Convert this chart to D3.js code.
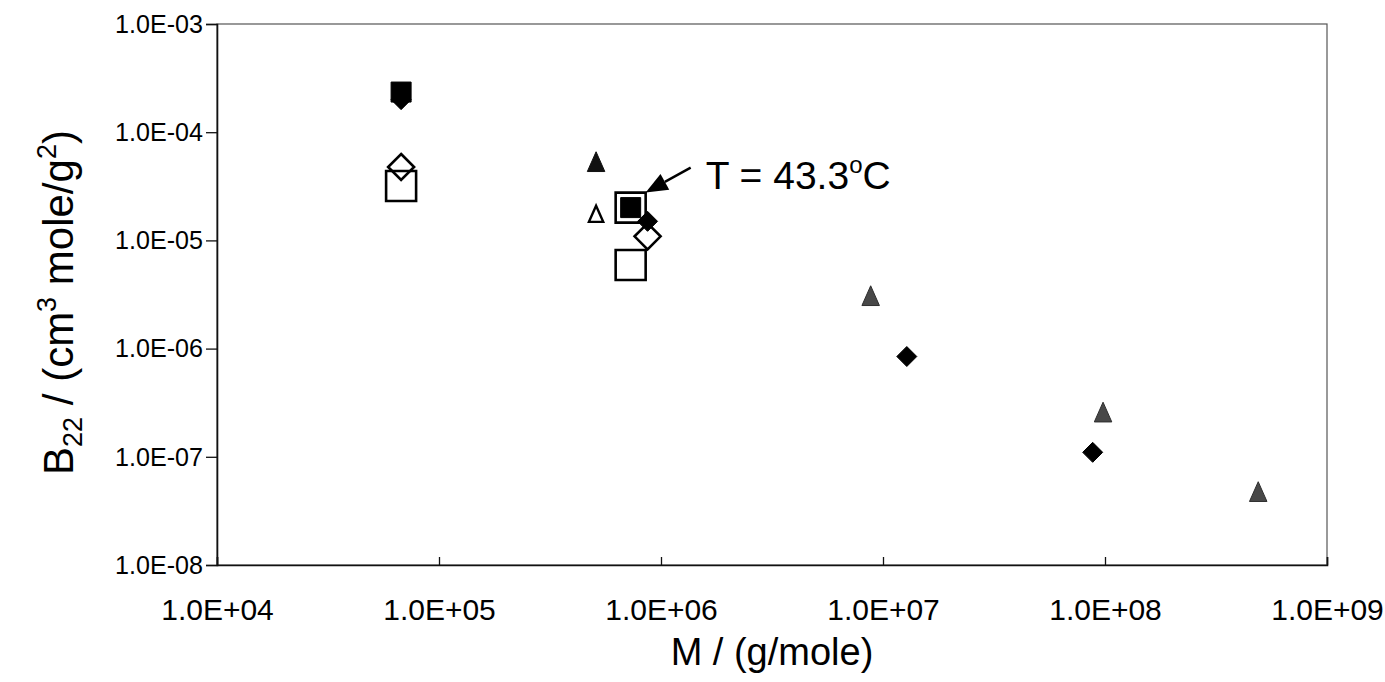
<!DOCTYPE html>
<html>
<head>
<meta charset="utf-8">
<script src="https://cdn.jsdelivr.net/npm/d3@7"></script>
<style>
  html, body { margin: 0; padding: 0; background: #fff; }
  svg { display: block; }
  text { font-family: "Liberation Sans", Arial, Helvetica, sans-serif; fill: #000; }
</style>
</head>
<body>
<svg id="chart" width="1385" height="682"></svg>
<script>
// Axis ticks (log decades) and their printed labels
const xTickValues = [1e4, 1e5, 1e6, 1e7, 1e8, 1e9];
const xTickLabels = ["1.0E+04", "1.0E+05", "1.0E+06", "1.0E+07", "1.0E+08", "1.0E+09"];
const yTickValues = [1e-3, 1e-4, 1e-5, 1e-6, 1e-7, 1e-8];
const yTickLabels = ["1.0E-03", "1.0E-04", "1.0E-05", "1.0E-06", "1.0E-07", "1.0E-08"];

// Molar mass M (g/mole) and second virial coefficient B22 per marker set
const openSquareM    = [6.75e4, 7.3e5, 7.3e5];
const openSquareB    = [3.18e-5, 2.01e-5, 5.93e-6];
const openDiamondM   = [6.75e4, 8.7e5];
const openDiamondB   = [4.77e-5, 1.09e-5];
const openTriangleM  = [5.1e5];
const openTriangleB  = [1.75e-5];
const filledSquareM  = [6.75e4, 7.3e5];
const filledSquareB  = [2.35e-4, 2.01e-5];
const filledDiamondM = [6.75e4, 8.7e5, 1.28e7, 8.8e7];
const filledDiamondB = [2.0e-4, 1.50e-5, 8.45e-7, 1.10e-7];
const filledTriangleM = [5.1e5];
const filledTriangleB = [5.3e-5];
const grayTriangleM  = [8.8e6, 9.8e7, 4.9e8];
const grayTriangleB  = [3.06e-6, 2.57e-7, 4.73e-8];

// Annotated point (T = 43.3 °C)
const noteM = 7.3e5, noteB = 2.01e-5;
const noteText = "T = 43.3";

const svg = d3.select("#chart");
const plot = { left: 217, right: 1327, top: 24, bottom: 565 };

const x = d3.scaleLog().domain([1e4, 1e9]).range([plot.left, plot.right]);
const y = d3.scaleLog().domain([1e-8, 1e-3]).range([plot.bottom, plot.top]);

// Plot frame: thin top/right border, heavier left/bottom axes
svg.append("rect")
  .attr("x", plot.left).attr("y", plot.top)
  .attr("width", plot.right - plot.left).attr("height", plot.bottom - plot.top)
  .attr("fill", "none").attr("stroke", "#555").attr("stroke-width", 1.2);

// Y axis
const yAxis = d3.axisLeft(y)
  .tickValues(yTickValues)
  .tickSize(11)
  .tickPadding(3)
  .tickFormat((d, i) => yTickLabels[i]);
const gy = svg.append("g").attr("transform", `translate(${plot.left},0)`).call(yAxis);
gy.select(".domain").attr("stroke", "#111").attr("stroke-width", 1.6);
gy.selectAll(".tick line").attr("stroke", "#111").attr("stroke-width", 1.3);
gy.selectAll(".tick text")
  .attr("font-size", 26)
  .attr("font-family", "Liberation Sans, Arial, sans-serif")
  .attr("fill", "#000")
  .attr("textLength", 88)
  .attr("lengthAdjust", "spacingAndGlyphs");

// X axis: ticks point into the plot
const xAxis = d3.axisBottom(x)
  .tickValues(xTickValues)
  .tickSize(-8)
  .tickPadding(0)
  .tickFormat((d, i) => xTickLabels[i]);
const gx = svg.append("g").attr("transform", `translate(0,${plot.bottom})`).call(xAxis);
gx.select(".domain").attr("stroke", "#111").attr("stroke-width", 1.6);
gx.selectAll(".tick line").attr("stroke", "#111").attr("stroke-width", 1.3);
gx.selectAll(".tick text")
  .attr("font-size", 30)
  .attr("font-family", "Liberation Sans, Arial, sans-serif")
  .attr("fill", "#000")
  .attr("dy", null)
  .attr("y", 55);

// Axis titles
svg.append("text")
  .attr("x", (plot.left + plot.right) / 2)
  .attr("y", 665)
  .attr("text-anchor", "middle")
  .attr("font-size", 38)
  .text("M / (g/mole)");

const yTitle = svg.append("text")
  .attr("transform", `translate(73,${(plot.top + plot.bottom) / 2 + 8}) rotate(-90)`)
  .attr("text-anchor", "middle")
  .attr("font-size", 42);
yTitle.append("tspan").text("B");
yTitle.append("tspan").attr("font-size", 27).attr("dy", 9).text("22");
yTitle.append("tspan").attr("dy", -9).text(" / (cm");
yTitle.append("tspan").attr("font-size", 27).attr("dy", -17).text("3");
yTitle.append("tspan").attr("dy", 17).text(" mole/g");
yTitle.append("tspan").attr("font-size", 27).attr("dy", -17).text("2");
yTitle.append("tspan").attr("dy", 17).text(")");

// Marker shapes, centred on (0,0)
function shapePath(kind, s) {
  const h = s / 2;
  if (kind === "square") return `M${-h},${-h}H${h}V${h}H${-h}Z`;
  if (kind === "diamond") return `M0,${-h}L${h},0L0,${h}L${-h},0Z`;
  if (kind === "triangle") return `M0,${-h * 1.08}L${h * 0.92},${h}L${-h * 0.92},${h}Z`;
  return "";
}

function drawSet(ms, bs, kind, size, fill, stroke, sw) {
  svg.append("g").selectAll("path")
    .data(ms.map((m, i) => [m, bs[i]]))
    .join("path")
    .attr("transform", d => `translate(${x(d[0])},${y(d[1])})`)
    .attr("d", shapePath(kind, size))
    .attr("fill", fill)
    .attr("stroke", stroke)
    .attr("stroke-width", sw)
    .attr("stroke-linejoin", "miter");
}

drawSet(openSquareM, openSquareB, "square", 30, "none", "#000", 2.6);
drawSet(openDiamondM, openDiamondB, "diamond", 26, "none", "#000", 2.6);
drawSet(openTriangleM, openTriangleB, "triangle", 15.5, "#fff", "#000", 2.4);
drawSet(filledSquareM, filledSquareB, "square", 20, "#000", "#000", 1);
drawSet(filledDiamondM, filledDiamondB, "diamond", 20, "#000", "#000", 1);
drawSet(filledTriangleM, filledTriangleB, "triangle", 19, "#111", "#111", 1);
drawSet(grayTriangleM, grayTriangleB, "triangle", 19, "#484848", "#2e2e2e", 1);

// Annotation arrow pointing at the top-right corner of the annotated marker
const ax = x(noteM) + 15, ay = y(noteB) - 15;
const tx = ax + 45, ty = ay - 25;
const ang = Math.atan2(ay - ty, ax - tx);
const headLen = 22, headHalf = 9;
const bx = ax - headLen * Math.cos(ang), by = ay - headLen * Math.sin(ang);
svg.append("line")
  .attr("x1", tx).attr("y1", ty).attr("x2", bx).attr("y2", by)
  .attr("stroke", "#000").attr("stroke-width", 2.4);
svg.append("path")
  .attr("d", `M${ax},${ay}L${bx + headHalf * Math.sin(ang)},${by - headHalf * Math.cos(ang)}L${bx - headHalf * Math.sin(ang)},${by + headHalf * Math.cos(ang)}Z`)
  .attr("fill", "#000");

const note = svg.append("text")
  .attr("x", ax + 60)
  .attr("y", ay - 4)
  .attr("font-size", 39);
note.append("tspan").text(noteText);
note.append("tspan").attr("font-size", 24).attr("dy", -16).text("o");
note.append("tspan").attr("dy", 16).text("C");
</script>
</body>
</html>
